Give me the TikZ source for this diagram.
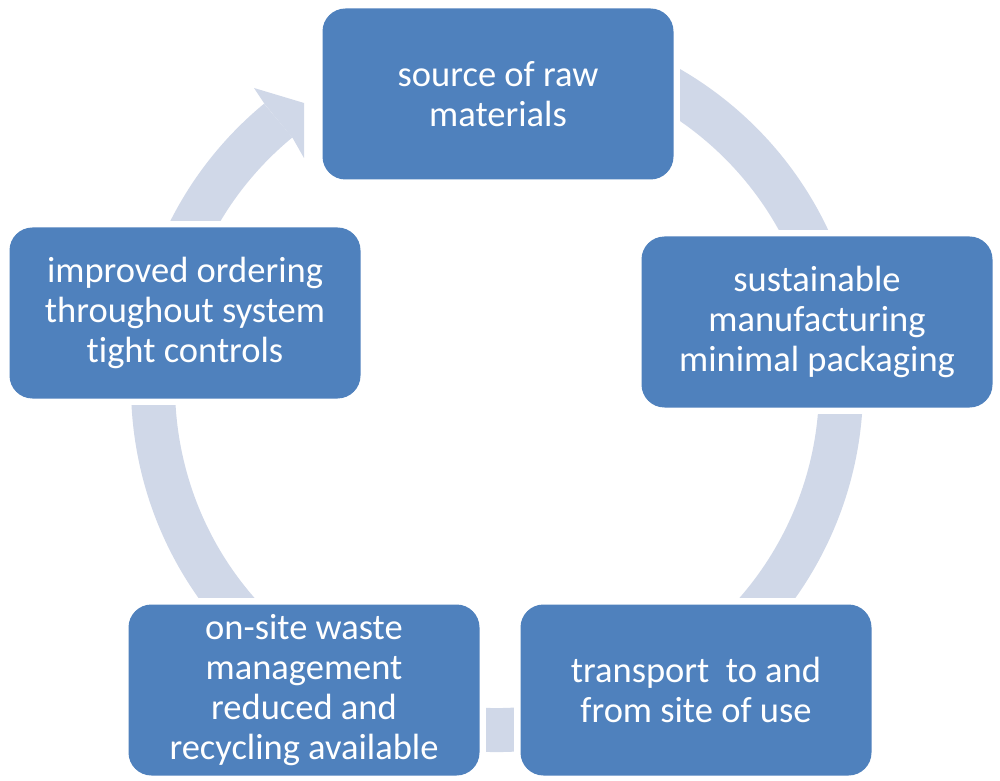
\documentclass[tikz,border=0pt]{standalone}
\usepackage{fontspec}
\setmainfont{Carlito}[Ligatures=NoCommon]
\usetikzlibrary{calc}
\pgfdeclarelayer{ringlayer}
\pgfdeclarelayer{padlayer}
\pgfsetlayers{ringlayer,padlayer,main}
\definecolor{boxblue}{HTML}{4F81BD}
\definecolor{ringcol}{HTML}{D0D8E8}
\tikzset{
  cyclebox/.style={rectangle, rounded corners=23pt, fill=boxblue, text=white,
    minimum width=351pt, minimum height=171pt, inner sep=0pt, align=center,
    font=\fontsize{36.5}{40}\selectfont},
  ringband/.style={draw=ringcol, line width=44pt, line cap=butt},
  padfill/.style={fill=white}
}
\begin{document}
\begin{tikzpicture}[x=1pt,y=1pt]
\begin{pgfonlayer}{ringlayer}
  \fill[white] (0,0) rectangle (1000,780);
\end{pgfonlayer}
\useasboundingbox (0,0) rectangle (1000,780);
\coordinate (C) at (497,394);

\node[cyclebox] (top) at (498,686) {source of raw\\materials};
\node[cyclebox] (right) at (817,458) {sustainable\\manufacturing\\minimal packaging};
\node[cyclebox] (bright) at (696,90) {transport\ \ to and\\from site of use};
\node[cyclebox] (bleft) at (304,90) {on-site waste\\management\\reduced and\\recycling available};
\node[cyclebox] (left) at (185,467) {improved ordering\\throughout system\\tight controls};

\begin{pgfonlayer}{ringlayer}
  \draw[ringband] ($(C)+(100:344)$) arc[start angle=100, end angle=-230.5, radius=344];
  \coordinate (so) at ($(C)+(129.5:365)$);
  \coordinate (si) at ($(C)+(129.5:321)$);
  \coordinate (ob) at (254,692);
  \coordinate (ct) at (304,677);
  \coordinate (cb) at (304,622);
  \fill[ringcol] (so) -- (ob) -- (ct) -- (cb) -- (si) -- cycle;
\end{pgfonlayer}

\begin{pgfonlayer}{padlayer}
  \foreach \n in {top,right,bright,bleft,left}{
    \fill[padfill] ($(\n.south west)+(-6,-6)$) rectangle ($(\n.north east)+(6,6)$);
  }
\end{pgfonlayer}
\end{tikzpicture}
\end{document}
